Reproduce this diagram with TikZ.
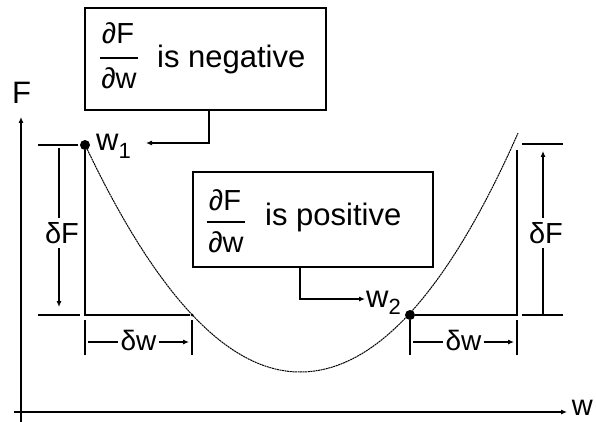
\documentclass[tikz,border=0pt]{standalone}
\usepackage{fontspec}
\setmainfont{Liberation Sans}
\usetikzlibrary{arrows.meta}
\begin{document}
\begin{tikzpicture}[x=1pt,y=-1pt,
  ln/.style={line width=1.1pt,black},
  arr/.style={ln,-{Latex[length=6pt,width=5pt]}},
  boxnode/.style={draw,line width=1.1pt,rectangle,inner sep=0pt},
  fracnum/.style={inner sep=0pt,font=\fontsize{29}{29}\selectfont},
  bigtxt/.style={inner sep=0pt,anchor=base west,font=\fontsize{31}{31}\selectfont},
  lbl/.style={inner sep=0pt,font=\fontsize{31}{31}\selectfont},
  dlbl/.style={inner sep=4pt,fill=white,font=\fontsize{29}{29}\selectfont},
  dwlbl/.style={inner sep=2pt,font=\fontsize{28}{28}\selectfont},
  dot/.style={circle,fill=black,inner sep=0pt,minimum size=10pt},
  curve/.style={line width=1pt,dash pattern=on 2pt off 0.6pt}
]
\useasboundingbox (0,0) rectangle (596,422);

% axes
\coordinate (yb) at (21,422);
\coordinate (yt) at (21,117);
\coordinate (xl) at (14,412);
\coordinate (xr) at (567,412);
\draw[arr] (yb) -- (yt);
\draw[arr] (xl) -- (xr);
\node[lbl] (Flab) at (21.5,93) {F};
\node[lbl,anchor=east,font=\fontsize{29}{29}\selectfont] (wlab) at (593,408) {w};

% curve
\draw[curve]
  plot[domain=85:300,samples=60] (\x,{372-49.2*((\x-300)/100)^2});
\draw[curve]
  plot[domain=300:518,samples=60] (\x,{372-47*((\x-300)/100)^2-1.5*((\x-300)/100)^3});

% points
\node[dot] (p1) at (85,145) {};
\node[dot] (p2) at (410,315) {};
\node[circle,fill=black,inner sep=0pt,minimum size=3pt] (p3) at (192,315) {};
\coordinate (p1b) at (85,315);
\coordinate (p2r) at (517,315);
\coordinate (p2t) at (517,150);

% left triangle
\draw[ln] (p1) -- (p1b) -- (p3);
% right triangle
\draw[ln] (p2) -- (p2r) -- (p2t);

% labels w1, w2
\node[lbl,anchor=base west] (w1) at (96,150) {w\raisebox{-8pt}{\fontsize{22}{22}\selectfont 1}};
\node[lbl,anchor=base west] (w2) at (366,307) {w\raisebox{-7pt}{\fontsize{22}{22}\selectfont 2}};

% left delta F
\coordinate (lt1) at (38,145); \coordinate (lt2) at (78,145);
\coordinate (lb1) at (38,315); \coordinate (lb2) at (80,315);
\draw[ln] (lt1) -- (lt2);
\draw[ln] (lb1) -- (lb2);
\coordinate (la1) at (59,148); \coordinate (la2) at (59,307);
\draw[arr] (la1) -- (la2);
\node[dlbl] (dFl) at (62,233) {δF};

% right delta F
\coordinate (rt1) at (522,144); \coordinate (rt2) at (563,144);
\coordinate (rb1) at (522,315); \coordinate (rb2) at (563,315);
\draw[ln] (rt1) -- (rt2);
\draw[ln] (rb1) -- (rb2);
\coordinate (ra1) at (543,315); \coordinate (ra2) at (543,151);
\draw[arr] (ra1) -- (ra2);
\node[dlbl] (dFr) at (546,233) {δF};

% left delta w
\coordinate (lw1a) at (85,320); \coordinate (lw1b) at (85,355);
\coordinate (lw2a) at (192,320); \coordinate (lw2b) at (192,355);
\draw[ln] (lw1a) -- (lw1b);
\draw[ln] (lw2a) -- (lw2b);
\node[dwlbl] (dwl) at (138.5,340) {δw};
\coordinate (lws) at (88,342); \coordinate (lwe) at (189,342);
\draw[ln] (lws) -- (dwl.west |- lws);
\draw[arr] (dwl.east |- lwe) -- (lwe);

% right delta w
\coordinate (rw1a) at (410,320); \coordinate (rw1b) at (410,355);
\coordinate (rw2a) at (517,320); \coordinate (rw2b) at (517,355);
\draw[ln] (rw1a) -- (rw1b);
\draw[ln] (rw2a) -- (rw2b);
\node[dwlbl] (dwr) at (463.5,340) {δw};
\coordinate (rws) at (413,342); \coordinate (rwe) at (514,342);
\draw[ln] (rws) -- (dwr.west |- rws);
\draw[arr] (dwr.east |- rwe) -- (rwe);

% box 1
\node[boxnode,minimum width=241pt,minimum height=102pt] (b1) at (205.5,59) {};
\node[fracnum] (n1) at (118,33) {∂F};
\node[fracnum] (d1) at (119,78) {∂w};
\draw[line width=1.1pt] (100,58) -- (138,58);
\node[bigtxt] (t1) at (157,68) {is negative};
\coordinate (e1) at (146,143);
\draw[arr] ([xshift=3.5pt]b1.south) |- (e1);

% box 2
\node[boxnode,minimum width=240pt,minimum height=95pt] (b2) at (313,219.5) {};
\node[fracnum] (n2) at (225,200) {∂F};
\node[fracnum] (d2) at (226,242) {∂w};
\draw[line width=1.1pt] (207,222) -- (245,222);
\node[bigtxt] (t2) at (265,225) {is positive};
\coordinate (e2) at (365,299);
\draw[arr] ([xshift=-13pt]b2.south) |- (e2);
\end{tikzpicture}
\end{document}
